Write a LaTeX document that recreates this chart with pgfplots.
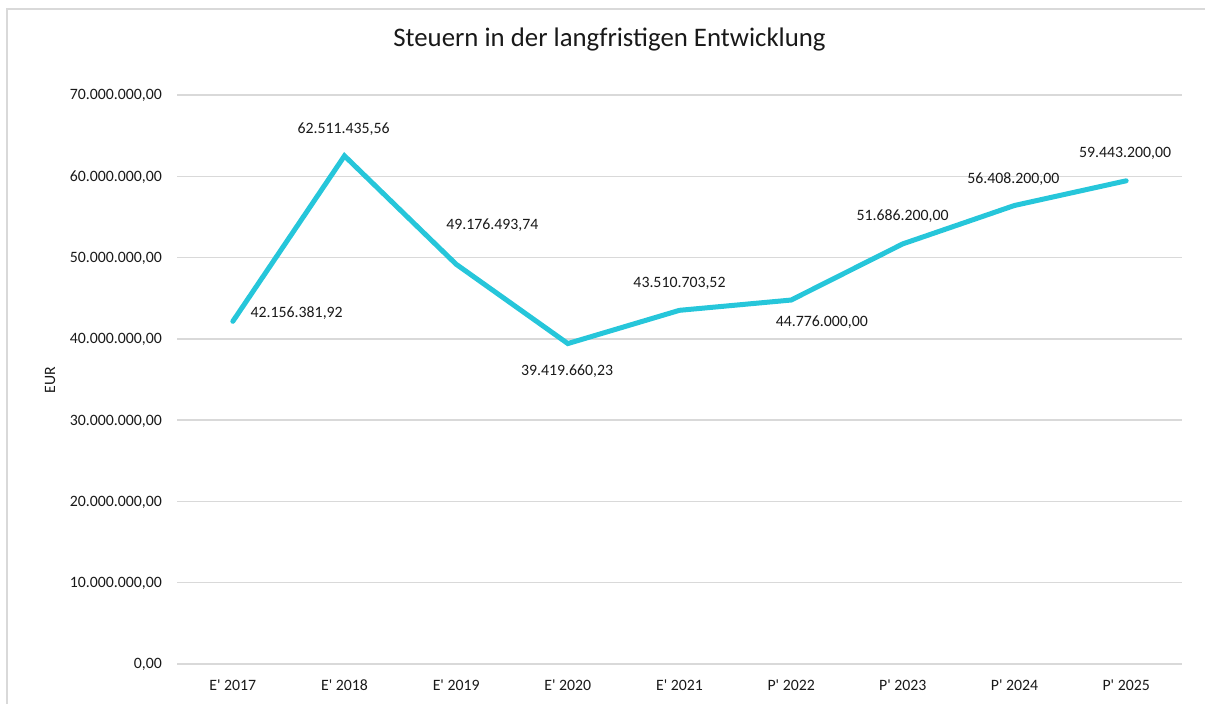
\documentclass[border=0pt]{standalone}
\usepackage{pgfplots}
\pgfplotsset{compat=1.18}
\usepackage{fontspec}
\setmainfont{Carlito}
\definecolor{linecyan}{RGB}{38,198,218}
\definecolor{gridgray}{RGB}{217,217,217}
\definecolor{txt}{RGB}{25,25,25}
\newcommand{\lbl}{\fontsize{15.8}{18}\selectfont\color{txt}}
\newcommand{\q}{\textquotesingle}
\begin{document}
\begin{tikzpicture}[x=1pt,y=1pt]
\begin{axis}[
  at={(177pt,40pt)}, anchor=south west,
  scale only axis, width=1005pt, height=569pt,
  xmin=-0.5, xmax=8.5, ymin=0, ymax=70000000,
  scaled y ticks=false,
  axis line style={draw=none},
  xtick={0,...,8},
  xticklabels={E\q{} 2017,E\q{} 2018,E\q{} 2019,E\q{} 2020,E\q{} 2021,P\q{} 2022,P\q{} 2023,P\q{} 2024,P\q{} 2025},
  ytick={0,10000000,20000000,30000000,40000000,50000000,60000000,70000000},
  yticklabels={{0,00},{10.000.000,00},{20.000.000,00},{30.000.000,00},{40.000.000,00},{50.000.000,00},{60.000.000,00},{70.000.000,00}},
  major tick length=0pt,
  ymajorgrids, major grid style={gridgray, line width=1.3pt},
  yticklabel style={font=\lbl, anchor=base east, inner sep=0pt, xshift=-15pt, yshift=-5pt},
  xticklabel style={font=\lbl, anchor=base, inner sep=0pt, yshift=-27pt},
  clip=false,
]
\addplot[linecyan, line width=5pt, line cap=round, line join=miter] coordinates {
 (0,42156381.92) (1,62511435.56) (2,49176493.74) (3,39419660.23) (4,43510703.52)
 (5,44776000) (6,51686200) (7,56408200) (8,59443200)};
\node[font=\lbl, anchor=base, inner sep=0pt] at (axis cs:0.572,42570000) {42.156.381,92};
\node[font=\lbl, anchor=base, inner sep=0pt] at (axis cs:0.992,65320000) {62.511.435,56};
\node[font=\lbl, anchor=base, inner sep=0pt] at (axis cs:2.324,53510000) {49.176.493,74};
\node[font=\lbl, anchor=base, inner sep=0pt] at (axis cs:2.994,35550000) {39.419.660,23};
\node[font=\lbl, anchor=base, inner sep=0pt] at (axis cs:4.000,46260000) {43.510.703,52};
\node[font=\lbl, anchor=base, inner sep=0pt] at (axis cs:5.274,41580000) {44.776.000,00};
\node[font=\lbl, anchor=base, inner sep=0pt] at (axis cs:5.998,54500000) {51.686.200,00};
\node[font=\lbl, anchor=base, inner sep=0pt] at (axis cs:6.990,59170000) {56.408.200,00};
\node[font=\lbl, anchor=base, inner sep=0pt] at (axis cs:7.991,62250000) {59.443.200,00};
\end{axis}
\node[rotate=90, font=\lbl, inner sep=0pt, anchor=base] at (55,324) {EUR};
\node[font=\fontsize{26.8}{30}\selectfont\color{txt}, anchor=base, inner sep=0pt] at (609.5,657) {Steuern in der langfristigen Entwicklung};
\draw[gridgray, line width=1.2pt] (7,0) -- (7,695) -- (1205,695);
\pgfresetboundingbox
\useasboundingbox (0,0) rectangle (1205,704);
\end{tikzpicture}
\end{document}
